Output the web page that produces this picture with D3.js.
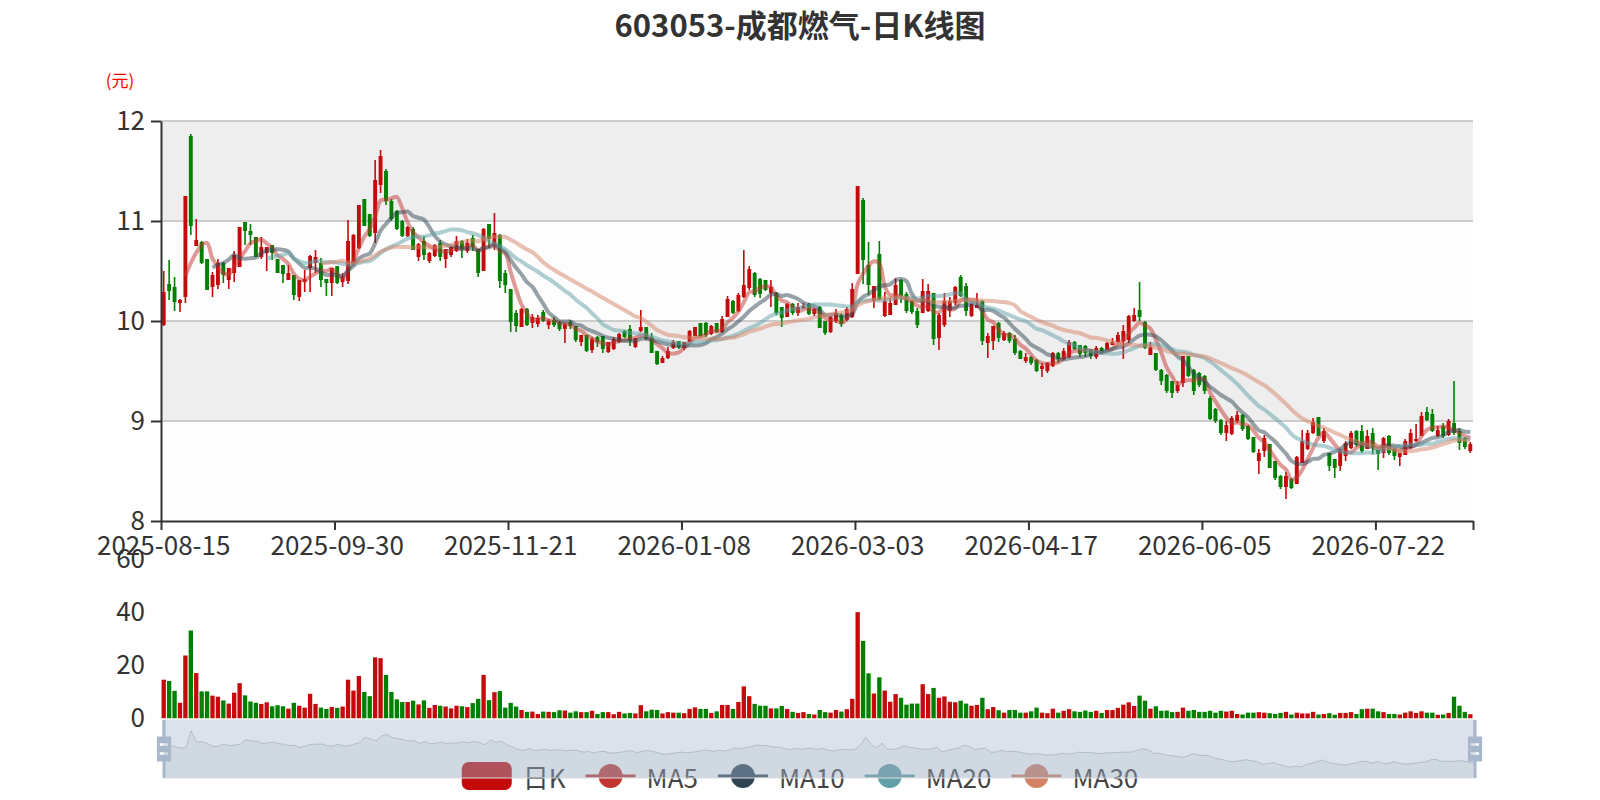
<!DOCTYPE html>
<html><head><meta charset="utf-8">
<script src="https://cdn.jsdelivr.net/npm/d3@7/dist/d3.min.js"></script>
<style>
body{margin:0;background:#fff}
svg{display:block}
text{font-family:"Microsoft YaHei","Noto Sans CJK SC","Noto Sans",sans-serif}
</style>
</head><body>
<svg id="chart" width="1600" height="800"></svg>
<script>
// ---------------- data ----------------
const startDate = "2025-08-15";
const holidays = ["2025-10-01","2025-10-02","2025-10-03","2025-10-06","2025-10-07","2025-10-08",
  "2026-01-01","2026-01-02","2026-02-16","2026-02-17","2026-02-18","2026-02-19","2026-02-20","2026-02-23",
  "2026-04-06","2026-05-01","2026-05-04","2026-05-05","2026-06-19"];

const opens = [9.96,10.37,10.34,10.18,10.24,11.85,10.75,10.79,10.62,10.34,
10.36,10.58,10.41,10.48,10.54,10.99,10.90,10.84,10.64,10.68,
10.76,10.62,10.56,10.41,10.46,10.24,10.39,10.53,10.58,10.58,
10.42,10.38,10.55,10.39,10.40,10.58,10.73,11.22,11.07,10.88,
11.36,11.50,11.20,11.10,11.00,10.85,10.92,10.64,10.80,10.60,
10.65,10.78,10.62,10.66,10.70,10.80,10.70,10.83,10.72,10.50,
10.97,10.75,10.86,10.48,10.32,10.08,9.94,10.12,9.98,9.97,
10.09,9.96,10.01,9.99,9.92,9.99,9.95,9.79,9.86,9.71,
9.84,9.85,9.69,9.72,9.79,9.90,9.92,9.74,9.90,9.94,
9.84,9.70,9.58,9.63,9.73,9.80,9.73,9.79,9.85,9.98,
9.98,9.87,9.98,9.89,10.04,10.20,10.10,10.24,10.33,10.48,
10.42,10.41,10.28,10.28,10.14,10.04,10.17,10.08,10.13,10.17,
10.07,10.14,10.00,9.89,10.00,10.06,10.01,10.04,10.47,11.21,
10.56,10.20,10.67,10.05,10.06,10.16,10.41,10.27,10.20,10.10,
10.08,10.10,10.28,9.83,9.96,10.10,10.18,10.44,10.35,10.05,
10.13,10.20,9.78,9.80,9.98,9.81,9.88,9.82,9.70,9.60,
9.64,9.61,9.52,9.50,9.55,9.68,9.62,9.64,9.79,9.76,
9.75,9.72,9.64,9.73,9.72,9.76,9.79,9.80,9.81,10.00,
10.11,9.99,9.66,9.68,9.51,9.46,9.40,9.30,9.38,9.65,
9.51,9.48,9.45,9.23,9.12,9.01,8.88,8.87,9.00,9.06,
8.95,8.84,8.60,8.70,8.77,8.60,8.45,8.34,8.42,8.37,
8.58,8.72,8.88,9.04,8.80,8.68,8.62,8.55,8.65,8.73,
8.90,8.90,8.72,8.88,8.71,8.68,8.85,8.72,8.64,8.66,
8.73,8.80,8.85,9.09,9.07,8.85,8.95,8.86,8.98,8.90,
8.83,8.70];

const closes = [10.29,10.30,10.19,10.21,11.25,10.95,10.81,10.58,10.31,10.46,
10.58,10.46,10.53,10.66,10.94,10.90,10.86,10.64,10.74,10.74,
10.68,10.48,10.47,10.48,10.26,10.41,10.42,10.65,10.64,10.41,
10.38,10.53,10.38,10.44,10.80,10.86,11.16,10.95,10.85,11.41,
11.65,11.20,11.02,10.92,10.85,10.94,10.71,10.77,10.66,10.68,
10.76,10.64,10.72,10.74,10.80,10.72,10.78,10.74,10.48,10.92,
10.82,10.88,10.40,10.36,9.99,9.95,10.12,9.96,10.04,10.03,
10.00,10.00,9.96,9.92,9.97,9.95,9.81,9.86,9.70,9.82,
9.79,9.72,9.79,9.82,9.87,9.84,9.80,9.83,9.94,9.82,
9.68,9.57,9.63,9.70,9.79,9.74,9.79,9.90,9.94,9.85,
9.86,9.95,9.89,10.02,10.22,10.08,10.26,10.36,10.52,10.26,
10.27,10.31,10.34,10.08,10.03,10.17,10.08,10.14,10.15,10.07,
10.12,9.93,9.88,10.04,10.08,9.97,10.12,10.32,11.35,10.61,
10.36,10.35,10.21,10.20,10.18,10.36,10.25,10.10,10.09,9.96,
10.30,10.30,9.82,10.06,10.20,10.20,10.34,10.25,10.10,10.17,
10.16,9.80,9.85,9.95,9.83,9.88,9.80,9.68,9.62,9.64,
9.58,9.50,9.55,9.58,9.68,9.62,9.70,9.79,9.72,9.67,
9.68,9.65,9.73,9.68,9.78,9.79,9.86,9.90,10.05,10.06,
10.04,9.73,9.74,9.51,9.40,9.30,9.28,9.36,9.65,9.45,
9.30,9.36,9.30,9.02,9.00,8.88,8.96,9.03,9.06,8.92,
8.82,8.69,8.68,8.83,8.53,8.43,8.34,8.45,8.33,8.64,
8.80,8.88,8.99,8.85,8.90,8.55,8.53,8.70,8.78,8.88,
8.76,8.70,8.85,8.73,8.67,8.83,8.68,8.65,8.68,8.80,
8.88,8.82,9.05,9.01,8.90,8.91,8.85,9.00,8.88,8.78,
8.74,8.77];

const lows = [9.95,10.21,10.10,10.09,10.18,10.86,10.75,10.57,10.31,10.24,
10.32,10.38,10.32,10.39,10.54,10.76,10.76,10.64,10.62,10.50,
10.61,10.48,10.38,10.41,10.21,10.20,10.29,10.29,10.48,10.34,
10.25,10.25,10.37,10.34,10.37,10.55,10.72,10.95,10.84,10.78,
11.28,11.16,11.00,10.91,10.84,10.84,10.71,10.60,10.61,10.58,
10.64,10.60,10.53,10.64,10.69,10.63,10.68,10.70,10.44,10.50,
10.73,10.71,10.33,10.28,9.89,9.89,9.94,9.95,9.93,9.94,
9.99,9.92,9.94,9.90,9.78,9.92,9.79,9.75,9.69,9.68,
9.74,9.68,9.68,9.71,9.78,9.83,9.75,9.73,9.89,9.81,
9.68,9.56,9.58,9.62,9.72,9.72,9.71,9.79,9.85,9.84,
9.84,9.86,9.88,9.88,10.04,10.07,10.09,10.23,10.31,10.24,
10.23,10.30,10.14,10.06,9.94,10.04,10.06,10.05,10.12,10.06,
10.05,9.93,9.86,9.88,9.98,9.94,10.00,10.03,10.47,10.37,
10.26,10.13,10.21,10.04,10.06,10.16,10.18,10.08,10.07,9.93,
10.08,10.09,9.76,9.71,9.94,10.04,10.16,10.24,10.05,10.04,
10.13,9.76,9.63,9.71,9.79,9.80,9.78,9.66,9.62,9.58,
9.56,9.49,9.44,9.48,9.54,9.58,9.61,9.63,9.71,9.64,
9.64,9.62,9.62,9.67,9.71,9.76,9.78,9.62,9.78,9.99,
10.00,9.72,9.66,9.50,9.36,9.28,9.23,9.28,9.34,9.44,
9.26,9.34,9.27,9.01,8.98,8.86,8.80,8.86,8.98,8.90,
8.81,8.68,8.47,8.64,8.53,8.41,8.32,8.22,8.32,8.37,
8.58,8.71,8.87,8.85,8.78,8.50,8.43,8.50,8.60,8.72,
8.74,8.68,8.72,8.67,8.51,8.63,8.66,8.61,8.55,8.66,
8.72,8.79,8.85,9.00,8.89,8.84,8.83,8.85,8.86,8.71,
8.72,8.68];

const highs = [10.50,10.61,10.44,10.22,11.25,11.87,11.02,10.80,10.62,10.49,
10.62,10.59,10.53,10.70,10.94,10.99,10.97,10.84,10.84,10.74,
10.76,10.62,10.56,10.56,10.46,10.41,10.51,10.66,10.71,10.63,
10.42,10.53,10.55,10.48,11.01,10.87,11.16,11.22,11.07,11.61,
11.71,11.52,11.22,11.11,11.01,10.95,10.94,10.78,10.85,10.69,
10.77,10.81,10.72,10.75,10.85,10.81,10.82,10.86,10.72,10.93,
10.97,11.08,10.87,10.51,10.32,10.11,10.13,10.13,10.07,10.06,
10.11,10.02,10.04,10.00,9.98,10.01,9.95,9.86,9.86,9.84,
9.85,9.85,9.79,9.84,9.88,9.91,9.96,9.83,10.11,9.94,
9.88,9.70,9.65,9.74,9.81,9.80,9.79,9.91,9.94,9.98,
9.99,9.96,9.98,10.05,10.25,10.21,10.28,10.71,10.55,10.49,
10.43,10.41,10.41,10.29,10.14,10.18,10.18,10.18,10.18,10.18,
10.13,10.15,10.00,10.05,10.12,10.08,10.14,10.38,11.35,11.23,
10.79,10.35,10.80,10.29,10.23,10.43,10.42,10.29,10.21,10.13,
10.42,10.37,10.28,10.08,10.28,10.24,10.35,10.46,10.38,10.18,
10.28,10.21,9.88,9.95,9.99,9.90,9.89,9.86,9.71,9.68,
9.65,9.62,9.58,9.59,9.69,9.69,9.73,9.81,9.80,9.76,
9.76,9.72,9.75,9.74,9.79,9.83,9.89,9.96,10.06,10.13,
10.39,10.00,9.79,9.68,9.52,9.47,9.40,9.40,9.65,9.65,
9.52,9.49,9.46,9.25,9.13,9.02,9.00,9.05,9.10,9.07,
8.96,8.84,8.72,8.86,8.77,8.60,8.46,8.49,8.43,8.65,
8.91,8.91,9.03,9.04,8.93,8.68,8.62,8.72,8.80,8.90,
8.91,8.96,8.91,8.93,8.71,8.84,8.86,8.73,8.68,8.82,
8.92,8.97,9.09,9.14,9.12,8.95,8.98,9.02,9.40,8.93,
8.84,8.79];

const volumes = [14.6,14.1,10.4,5.9,23.7,33.1,17.1,10.2,10.2,8.6,
8.2,6.8,5.6,9.7,13.3,8.7,6.4,5.9,5.5,6.1,
4.6,5.0,4.6,3.7,5.9,4.8,4.1,9.3,5.5,4.1,
3.6,4.3,4.0,4.5,14.6,10.5,16.0,10.0,8.4,23.0,
22.7,16.4,10.0,7.2,6.2,6.2,6.7,5.3,6.8,4.0,
5.1,4.8,4.5,3.8,4.8,4.6,4.3,5.8,7.4,16.4,
6.9,9.9,10.3,4.1,5.9,4.5,3.2,2.5,2.6,1.7,
2.6,2.5,2.4,3.1,3.0,2.2,2.7,2.4,2.4,2.9,
1.7,2.4,2.4,1.6,2.5,1.9,2.1,1.9,5.0,2.7,
3.3,3.2,1.9,2.4,2.2,2.2,2.0,3.6,4.2,3.6,
3.6,2.1,2.7,5.1,5.1,3.6,6.2,12.1,8.4,5.5,
4.8,4.8,3.8,3.8,4.7,3.6,2.5,2.1,2.4,1.7,
1.5,3.2,2.4,2.2,3.2,2.6,3.5,7.4,40.0,29.2,
17.0,9.4,15.5,10.5,6.3,9.2,7.8,5.2,5.6,5.6,
12.9,9.2,11.5,7.8,8.3,6.3,6.1,6.7,5.6,4.8,
5.1,7.8,3.5,4.3,3.1,2.2,3.2,3.2,2.2,2.2,
2.7,4.1,2.2,2.0,3.7,2.2,2.9,3.5,2.7,2.5,
3.0,2.5,2.9,2.1,3.2,3.2,4.0,5.2,6.1,4.7,
8.6,6.7,3.7,4.6,2.9,3.0,2.4,2.5,4.1,2.9,
3.2,2.5,2.5,2.9,2.2,2.9,2.6,2.9,1.7,1.5,
2.2,2.2,2.4,2.2,2.0,1.7,2.1,2.5,1.5,2.2,
1.9,1.9,2.5,1.5,1.7,2.0,1.4,2.1,2.1,2.4,
1.7,3.5,3.7,3.7,2.7,2.4,1.7,1.7,1.5,2.2,
2.7,2.1,2.7,2.2,2.2,1.4,1.5,2.1,8.2,4.8,
2.5,1.6];

const priceTicks = [8, 9, 10, 11, 12];
const volumeTicks = [0, 20, 40, 60];
const labelStep = 32;
const maDays = [5, 10, 20, 30];
const maNames = ["MA5", "MA10", "MA20", "MA30"];
const maColors = ["#c23531", "#2f4554", "#61a0a8", "#d48265"];
const titleText = "603053-成都燃气-日K线图";
const unitText = "(元)";
const upColor = "#c40a0a", downColor = "#008000";

// ---------------- helpers ----------------
function tradingDays(start, count, hol) {
  const out = []; const d = new Date(start + "T00:00:00Z");
  while (out.length < count) {
    const s = d.toISOString().slice(0, 10), w = d.getUTCDay();
    if (w !== 0 && w !== 6 && !hol.includes(s)) out.push(s);
    d.setUTCDate(d.getUTCDate() + 1);
  }
  return out;
}
function movingAverage(k) {
  return closes.map((c, i) => i < k - 1 ? null : d3.mean(closes.slice(i - k + 1, i + 1)));
}

const n = opens.length;
const dates = tradingDays(startDate, n, holidays);
const rows = dates.map((d, i) => ({d, i, o: opens[i], c: closes[i], l: lows[i], h: highs[i], v: volumes[i]}));

const svg = d3.select("#chart");
const G = {l: 161, r: 1473, t: 121, b: 521};
const V = {t: 559, b: 718.5};
const axisFont = "26px";

const x = d3.scaleBand().domain(dates).range([G.l, G.r]).padding(0);
const bw = x.bandwidth();
const cx = d => x(d) + bw / 2;
const xb = d3.scaleLinear().domain([0, n]).range([G.l, G.r]);
const y = d3.scaleLinear().domain([8, 12]).range([G.b, G.t]);
const yv = d3.scaleLinear().domain([0, 60]).range([V.b, V.t]);

svg.append("rect").attr("width", 1600).attr("height", 800).attr("fill", "#fff");

// clip
const defs = svg.append("defs");
defs.append("clipPath").attr("id", "gclip").append("rect")
  .attr("x", G.l).attr("y", G.t - 2).attr("width", G.r - G.l).attr("height", G.b - G.t + 2);
defs.append("clipPath").attr("id", "vclip").append("rect")
  .attr("x", G.l).attr("y", V.t - 2).attr("width", G.r - G.l).attr("height", V.b - V.t + 2);

// split areas
const bands = d3.pairs(priceTicks);
svg.append("g").selectAll("rect").data(bands).join("rect")
  .attr("x", G.l).attr("width", G.r - G.l)
  .attr("y", d => y(d[1])).attr("height", d => y(d[0]) - y(d[1]))
  .attr("fill", (d, i) => i % 2 === 0 ? "rgba(250,250,250,0.3)" : "rgba(200,200,200,0.3)");
// split lines
svg.append("g").selectAll("line").data(priceTicks.slice(1)).join("line")
  .attr("x1", G.l).attr("x2", G.r).attr("y1", d => y(d)).attr("y2", d => y(d))
  .attr("stroke", "#ccc").attr("stroke-width", 2);

// candles
const cg = svg.append("g").attr("clip-path", "url(#gclip)");
const bodyW = bw * 0.72;
cg.selectAll("line.wick").data(rows).join("line").attr("class", "wick")
  .attr("x1", d => cx(d.d)).attr("x2", d => cx(d.d))
  .attr("y1", d => y(d.h)).attr("y2", d => y(d.l))
  .attr("stroke", d => d.c >= d.o ? upColor : downColor).attr("stroke-width", 1.6);
cg.selectAll("rect.body").data(rows).join("rect").attr("class", "body")
  .attr("x", d => cx(d.d) - bodyW / 2).attr("width", bodyW)
  .attr("y", d => y(Math.max(d.o, d.c)))
  .attr("height", d => Math.max(1.2, Math.abs(y(d.o) - y(d.c))))
  .attr("fill", d => d.c >= d.o ? upColor : downColor);

// MA lines
const lineGen = d3.line().defined(v => v != null)
  .x((v, i) => cx(dates[i])).y(v => y(v)).curve(d3.curveCatmullRom.alpha(0.5));
maDays.forEach((k, j) => {
  cg.append("path").datum(movingAverage(k)).attr("d", lineGen)
    .attr("fill", "none").attr("stroke", maColors[j]).attr("stroke-width", 4)
    .attr("stroke-opacity", 0.5).attr("stroke-linejoin", "round");
});

// y axis
const yAxis = svg.append("g").attr("transform", `translate(${G.l},0)`)
  .call(d3.axisLeft(y).tickValues(priceTicks).tickSize(10).tickPadding(6).tickSizeOuter(0).tickFormat(d3.format("d")));
yAxis.select(".domain").attr("stroke", "#333").attr("stroke-width", 2);
yAxis.selectAll(".tick line").attr("stroke", "#333").attr("stroke-width", 2);
yAxis.selectAll(".tick text").attr("fill", "#333").style("font-size", axisFont);

// x axis: ticks at band boundaries, labels at band centres
const tickIdx = d3.range(0, n, labelStep);
const xTicks = svg.append("g").attr("transform", `translate(0,${G.b})`)
  .call(d3.axisBottom(xb).tickValues(tickIdx.concat([n])).tickSize(9).tickSizeOuter(0).tickFormat(""));
xTicks.select(".domain").attr("stroke", "#333").attr("stroke-width", 2);
xTicks.selectAll(".tick line").attr("stroke", "#333").attr("stroke-width", 2);
const xLabels = svg.append("g").attr("transform", `translate(0,${G.b})`)
  .call(d3.axisBottom(x).tickValues(tickIdx.map(i => dates[i])).tickSize(0).tickPadding(16));
xLabels.select(".domain").remove();
xLabels.selectAll(".tick text").attr("fill", "#333").style("font-size", axisFont);

// unit label
svg.append("text").attr("x", 120).attr("y", 79).attr("text-anchor", "middle")
  .attr("dominant-baseline", "central").attr("fill", "#ff0000").style("font-size", "17px").text(unitText);

// title
svg.append("text").attr("x", 800).attr("y", 23).attr("text-anchor", "middle")
  .attr("dominant-baseline", "central").attr("fill", "#333").style("font-size", "31px")
  .style("font-weight", "bold").text(titleText);

// volume bars
const vg = svg.append("g").attr("clip-path", "url(#vclip)");
const volW = bw * 0.8;
vg.selectAll("rect").data(rows).join("rect")
  .attr("x", d => cx(d.d) - volW / 2).attr("width", volW)
  .attr("y", d => yv(d.v)).attr("height", d => yv(0) - yv(d.v))
  .attr("fill", d => d.c >= d.o ? upColor : downColor);

// volume axis
const vAxis = svg.append("g").attr("transform", `translate(${G.l},0)`)
  .call(d3.axisLeft(yv).tickValues(volumeTicks).tickSize(0).tickPadding(16));
vAxis.select(".domain").remove();
vAxis.selectAll(".tick text").attr("fill", "#333").style("font-size", axisFont);

// legend
const legendItems = [{name: "日K", type: "candle", color: upColor}]
  .concat(maNames.map((m, j) => ({name: m, type: "line", color: maColors[j]})));
const lg = svg.append("g");
const iconW = 50, iconH = 28, textGap = 11, itemGap = 20, legY = 776;
let cursor = 0;
const placed = [];
legendItems.forEach(it => {
  const g = lg.append("g");
  if (it.type === "candle") {
    g.append("rect").attr("x", 0).attr("y", -iconH / 2).attr("width", iconW).attr("height", iconH)
      .attr("rx", 7).attr("fill", it.color);
  } else {
    g.append("line").attr("x1", 0).attr("x2", iconW).attr("y1", 0).attr("y2", 0)
      .attr("stroke", it.color).attr("stroke-width", 3);
    g.append("circle").attr("cx", iconW / 2).attr("cy", 0).attr("r", 12).attr("fill", it.color);
  }
  const t = g.append("text").attr("x", iconW + textGap).attr("y", 0).attr("dominant-baseline", "central")
    .attr("fill", "#444").style("font-size", "26px").text(it.name);
  const tw = t.node().getComputedTextLength();
  placed.push({g, x: cursor});
  cursor += iconW + textGap + tw + itemGap;
});
const totalW = cursor - itemGap;
const lx0 = 800 - totalW / 2;
placed.forEach(p => p.g.attr("transform", `translate(${lx0 + p.x},${legY})`));

// data zoom slider (drawn over the legend)
const S = {l: 164, r: 1475, t: 720, h: 58};
const sg = svg.append("g");
const ext = d3.extent(opens); const pad = (ext[1] - ext[0]) * 0.3;
const xs = d3.scaleLinear().domain([0, n - 1]).range([S.l, S.r]);
const ys = d3.scaleLinear().domain([ext[0] - pad, ext[1] + pad]).range([S.t + S.h, S.t]);
sg.append("path").datum(opens)
  .attr("d", d3.area().x((v, i) => xs(i)).y0(S.t + S.h).y1(v => ys(v)))
  .attr("fill", "rgba(47,69,84,0.09)");
sg.append("path").datum(opens)
  .attr("d", d3.line().x((v, i) => xs(i)).y(v => ys(v)))
  .attr("fill", "none").attr("stroke", "rgba(47,69,84,0.3)").attr("stroke-width", 1);
sg.append("rect").attr("x", S.l).attr("y", S.t).attr("width", S.r - S.l).attr("height", S.h)
  .attr("fill", "rgba(167,183,204,0.4)");
sg.append("rect").attr("x", S.l).attr("y", S.t).attr("width", S.r - S.l).attr("height", S.h)
  .attr("fill", "none").attr("stroke", "#ddd").attr("stroke-width", 1);
const handlePath = "M8.2,13.6V3.9H6.3v9.7H3.1v14.9h3.3v9.7h1.8v-9.7h3.3V13.6H8.2z M9.7,24.4H4.8v-1.4h4.9V24.4z M9.7,19.1H4.8v-1.4h4.9V19.1z";
const hs = S.h / 34.3;
[S.l, S.r].forEach(hx => {
  sg.append("path").attr("d", handlePath).attr("fill", "#a7b7cc").attr("fill-rule", "evenodd")
    .attr("transform", `translate(${hx - 7.3 * hs},${S.t - 3.9 * hs}) scale(${hs})`);
});
</script>
</body></html>
